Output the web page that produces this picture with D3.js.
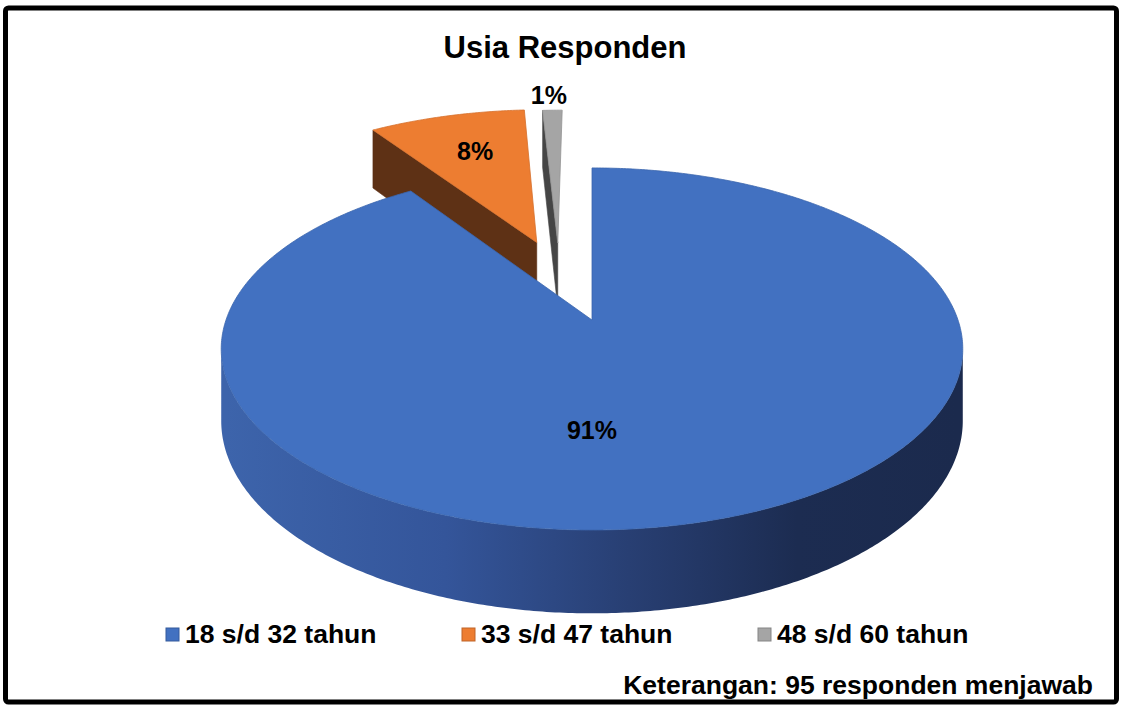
<!doctype html>
<html>
<head>
<meta charset="utf-8">
<title>Usia Responden</title>
<script src="https://cdn.jsdelivr.net/npm/d3@7"></script>
<style>
  body { margin: 0; background: white; }
  svg { display: block; font-family: "Liberation Sans", Arial, sans-serif; }
</style>
</head>
<body>
<svg id="chart" width="1122" height="706"></svg>
<script>
// data (95 respondents)
var categories = ['18 s/d 32 tahun', '33 s/d 47 tahun', '48 s/d 60 tahun'];
var counts = [86, 8, 1];
var chartTitle = 'Usia Responden';
var noteText = 'Keterangan: 95 responden menjawab';

// look
var topColors = ['#4271c1', '#ed7d31', '#a5a5a5'];
var cutColors = ['#22386a', '#5e3115', '#454545'];
var pull = [0, 0.5, 0.48];          // explode distance (disk radii)
var pullTurn = [0, 0, -0.178];      // explode direction tweak (radians)
var labelSpot = [[0, 0.567], [-0.377, -1.131], [-0.148, -1.603]];

var W = 1122, H = 706;
var cx = 592, cy = 320, R = 366, A = 176.4, depth = 70, persp = 0.16;

var svg = d3.select('#chart');

// frame
svg.append('rect')
    .attr('x', 5.5).attr('y', 8)
    .attr('width', 1111).attr('height', 694)
    .attr('rx', 3)
    .attr('fill', 'white')
    .attr('stroke', 'black')
    .attr('stroke-width', 5);

// disk coords (u right, v toward viewer), z = 0 top face, 1 bottom face
function proj(u, v, z) {
  var s = 1 / (1 - persp * v);
  return [cx + R * u * s, cy + (A * v + depth * z) * s];
}

var pie = d3.pie().sort(null).value(function (d) { return d; });
var arcs = pie(counts);
var total = d3.sum(counts);
var pct = d3.format('.0%');

var slices = arcs.map(function (a, i) {
  var mid = (a.startAngle + a.endAngle) / 2 + pullTurn[i];
  return {
    i: i,
    a0: a.startAngle,
    a1: a.endAngle,
    ou: pull[i] * Math.sin(mid),
    ov: -pull[i] * Math.cos(mid),
    value: a.value
  };
});

function rim(s, t0, t1, z) {
  var n = Math.max(2, Math.ceil(Math.abs(t1 - t0) / 0.01));
  var pts = [];
  for (var j = 0; j <= n; j++) {
    var t = t0 + (t1 - t0) * j / n;
    pts.push(proj(s.ou + Math.sin(t), s.ov - Math.cos(t), z));
  }
  return pts;
}

var line = d3.line();

// blue side gradient
var defs = svg.append('defs');
var grad = defs.append('linearGradient')
    .attr('id', 'sideBlue')
    .attr('gradientUnits', 'userSpaceOnUse')
    .attr('x1', cx - R).attr('x2', cx + R)
    .attr('y1', 0).attr('y2', 0);
[[0, '#3d64ab'], [0.3, '#34559a'], [0.55, '#283f73'], [0.78, '#1c2c51'], [1, '#1b2a4d']]
  .forEach(function (st) {
    grad.append('stop').attr('offset', st[0]).attr('stop-color', st[1]);
  });

var sideFill = ['url(#sideBlue)', '#8a4a1f', '#6b6b6b'];

// back slices first
var order = slices.slice().sort(function (a, b) { return a.ov - b.ov; });
var g = svg.append('g');

order.forEach(function (s) {
  var apexTop = proj(s.ou, s.ov, 0), apexBot = proj(s.ou, s.ov, 1);

  // radial cut faces
  [[s.a0, -Math.sin(s.a0)], [s.a1, Math.sin(s.a1)]].forEach(function (e) {
    if (e[1] <= 0.001) return;
    var t = e[0];
    var p = [apexTop, proj(s.ou + Math.sin(t), s.ov - Math.cos(t), 0),
             proj(s.ou + Math.sin(t), s.ov - Math.cos(t), 1), apexBot];
    g.append('path')
        .attr('d', line(p) + 'Z')
        .attr('fill', cutColors[s.i])
        .attr('stroke', cutColors[s.i])
        .attr('stroke-width', 0.6);
  });

  // outer curved side (front half only)
  var lim = Math.acos(-persp);
  var t0 = Math.max(s.a0, lim), t1 = Math.min(s.a1, 2 * Math.PI - lim);
  if (t1 > t0) {
    var top = rim(s, t0, t1, 0), bot = rim(s, t0, t1, 1).reverse();
    g.append('path')
        .attr('d', line(top.concat(bot)) + 'Z')
        .attr('fill', sideFill[s.i])
        .attr('stroke', 'none');
  }

  // top face
  var face = [apexTop].concat(rim(s, s.a0, s.a1, 0));
  g.append('path')
      .attr('d', line(face) + 'Z')
      .attr('fill', topColors[s.i])
      .attr('stroke', d3.color(topColors[s.i]).darker(0.3))
      .attr('stroke-width', 0.8)
      .attr('stroke-linejoin', 'round');
});

// percentage labels
slices.forEach(function (s) {
  var p = proj(labelSpot[s.i][0], labelSpot[s.i][1], 0);
  svg.append('text')
      .attr('x', p[0]).attr('y', p[1])
      .attr('dy', '0.35em')
      .attr('text-anchor', 'middle')
      .attr('font-size', 25)
      .attr('font-weight', 'bold')
      .attr('fill', 'black')
      .text(pct(s.value / total));
});

// title
svg.append('text')
    .attr('x', 565).attr('y', 58)
    .attr('text-anchor', 'middle')
    .attr('font-size', 31)
    .attr('font-weight', 'bold')
    .text(chartTitle);

// legend
var legendX = d3.scalePoint().domain(categories).range([166, 758]);
var leg = svg.append('g').selectAll('g')
    .data(categories)
    .join('g')
    .attr('transform', function (d) { return 'translate(' + legendX(d) + ',628)'; });
leg.append('rect')
    .attr('width', 13).attr('height', 13)
    .attr('fill', function (d, i) { return topColors[i]; })
    .attr('stroke', function (d, i) { return d3.color(topColors[i]).darker(0.6); })
    .attr('stroke-width', 1);
leg.append('text')
    .attr('x', 19).attr('y', 15)
    .attr('font-size', 26.5)
    .attr('font-weight', 'bold')
    .text(function (d) { return d; });

// note
svg.append('text')
    .attr('x', 1093).attr('y', 694)
    .attr('text-anchor', 'end')
    .attr('font-size', 26.5)
    .attr('font-weight', 'bold')
    .text(noteText);
</script>
</body>
</html>
